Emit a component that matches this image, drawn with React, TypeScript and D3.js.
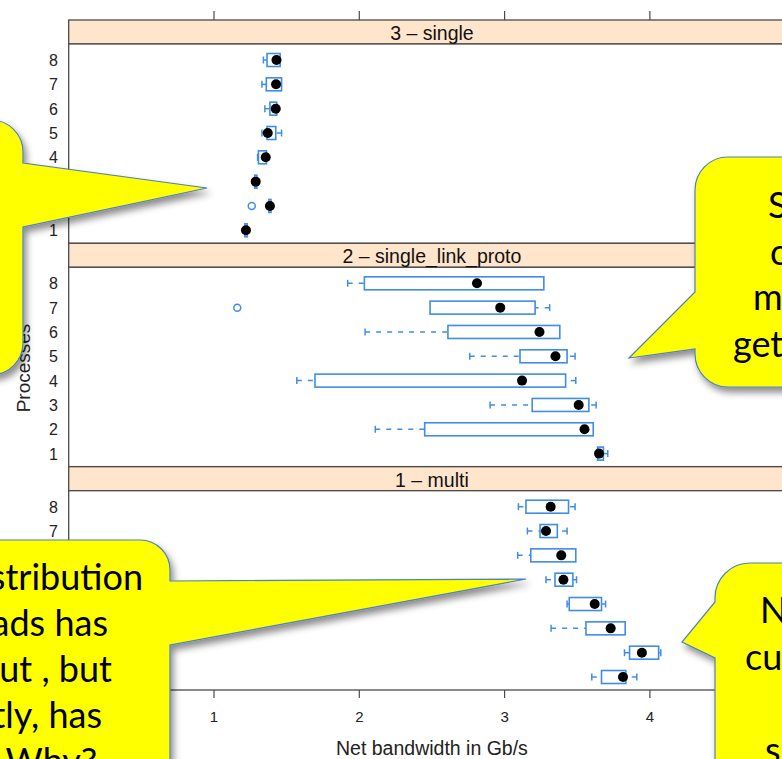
import React from "react";
import * as d3 from "d3";

// ---- data ----
const processes = [1, 2, 3, 4, 5, 6, 7, 8];
const panelLabels = ["3 – single", "2 – single_link_proto", "1 – multi"];
const xTicks = [1, 2, 3, 4];

// 3 – single
const singleLow = [1.21, 1.37, 1.275, 1.3, 1.33, 1.35, 1.33, 1.34];
const singleQ1 = [1.213, 1.378, 1.28, 1.306, 1.365, 1.385, 1.36, 1.365];
const singleMed = [1.22, 1.385, 1.287, 1.356, 1.37, 1.425, 1.427, 1.43];
const singleQ3 = [1.228, 1.392, 1.295, 1.361, 1.425, 1.432, 1.465, 1.455];
const singleHigh = [1.23, 1.392, 1.3, 1.361, 1.465, 1.432, 1.465, 1.455];
const singleOutProc = [2];
const singleOutVal = [1.26];

// 2 – single_link_proto
const linkLow = [3.64, 2.11, 2.9, 1.57, 2.76, 2.04, 2.487, 1.92];
const linkQ1 = [3.64, 2.45, 3.19, 1.695, 3.106, 2.61, 2.487, 2.035];
const linkMed = [3.65, 3.55, 3.51, 3.12, 3.35, 3.24, 2.97, 2.81];
const linkQ3 = [3.68, 3.61, 3.58, 3.42, 3.43, 3.38, 3.21, 3.27];
const linkHigh = [3.71, 3.61, 3.63, 3.49, 3.485, 3.38, 3.31, 3.27];
const linkOutProc = [7];
const linkOutVal = [1.16];

// 1 – multi
const multiLow = [3.6, 3.825, 3.32, 3.43, 3.285, 3.09, 3.157, 3.095];
const multiQ1 = [3.667, 3.86, 3.56, 3.445, 3.347, 3.18, 3.244, 3.147];
const multiMed = [3.815, 3.945, 3.73, 3.62, 3.405, 3.39, 3.285, 3.317];
const multiQ3 = [3.834, 4.06, 3.83, 3.667, 3.47, 3.49, 3.363, 3.44];
const multiHigh = [3.91, 4.075, 3.83, 3.695, 3.495, 3.49, 3.43, 3.485];
const multiOutProc: number[] = [];
const multiOutVal: number[] = [];

const BLUE = "#3f8de6";
const FRAME = "#4a4a4a";

export default function App() {
  const W = 782;
  const H = 759;
  const x = d3.scaleLinear().domain([0, 5]).range([68.7, 795.2]);
  const stripTops = [20, 243.3, 466.7];
  const stripH = 24;
  const panelH = 199.3;
  const xL = x.range()[0];
  const xR = x.range()[1];

  const panels = [
    { low: singleLow, q1: singleQ1, med: singleMed, q3: singleQ3, high: singleHigh, op: singleOutProc, ov: singleOutVal },
    { low: linkLow, q1: linkQ1, med: linkMed, q3: linkQ3, high: linkHigh, op: linkOutProc, ov: linkOutVal },
    { low: multiLow, q1: multiQ1, med: multiMed, q3: multiQ3, high: multiHigh, op: multiOutProc, ov: multiOutVal },
  ];

  const sans = "'Liberation Sans', Arial, Helvetica, sans-serif";
  const callFont = "Lato, 'Open Sans', sans-serif";
  const halfBox = 6.5;

  return (
    <svg
      width={W}
      height={H}
      style={{ position: "fixed", left: 0, top: 0, background: "#fff", overflow: "hidden" }}
      fontFamily={sans}
    >
      <defs>
        <filter id="sh" x="-30%" y="-30%" width="160%" height="160%">
          <feDropShadow dx="3" dy="5" stdDeviation="3.5" floodColor="#000" floodOpacity="0.45" />
        </filter>
      </defs>
      <rect x={0} y={0} width={W} height={H} fill="#fff" />

      {/* top axis ticks */}
      {xTicks.map((t) => (
        <line key={"tt" + t} x1={x(t)} x2={x(t)} y1={11} y2={20} stroke={FRAME} strokeWidth={1.2} />
      ))}

      {panels.map((p, pi) => {
        const sTop = stripTops[pi];
        const pTop = sTop + stripH;
        const pBot = pTop + panelH;
        const y = d3.scaleLinear().domain([0.466, 8.658]).range([pBot, pTop]);
        return (
          <g key={"p" + pi}>
            <rect x={xL} y={sTop} width={xR - xL} height={stripH} fill="#ffe5cc" stroke={FRAME} strokeWidth={1.3} />
            <rect x={xL} y={pTop} width={xR - xL} height={panelH} fill="#fff" stroke={FRAME} strokeWidth={1.3} />
            <text x={(xL + xR) / 2} y={sTop + 20} textAnchor="middle" fontSize={19.5} fill="#111">
              {panelLabels[pi]}
            </text>
            {processes.map((proc) => {
              const cy = y(proc);
              return (
                <text key={"yl" + proc} x={58} y={cy + 6} textAnchor="end" fontSize={16} fill="#222">
                  {proc}
                </text>
              );
            })}
            {processes.map((proc, i) => {
              const cy = y(proc);
              const lo = x(p.low[i]);
              const q1 = x(p.q1[i]);
              const md = x(p.med[i]);
              const q3 = x(p.q3[i]);
              const hi = x(p.high[i]);
              return (
                <g key={"b" + proc}>
                  {lo < q1 - 0.5 && (
                    <>
                      <line x1={lo} x2={q1} y1={cy} y2={cy} stroke={BLUE} strokeWidth={1.5} strokeDasharray="5,6" />
                      <line x1={lo} x2={lo} y1={cy - 3.5} y2={cy + 3.5} stroke={BLUE} strokeWidth={1.5} />
                    </>
                  )}
                  {hi > q3 + 0.5 && (
                    <>
                      <line x1={hi} x2={q3} y1={cy} y2={cy} stroke={BLUE} strokeWidth={1.5} strokeDasharray="5,6" />
                      <line x1={hi} x2={hi} y1={cy - 3.5} y2={cy + 3.5} stroke={BLUE} strokeWidth={1.5} />
                    </>
                  )}
                  <rect
                    x={q1}
                    y={cy - halfBox}
                    width={Math.max(q3 - q1, 1)}
                    height={halfBox * 2}
                    fill="none"
                    stroke={BLUE}
                    strokeWidth={1.6}
                  />
                  <circle cx={md} cy={cy} r={5} fill="#000" />
                </g>
              );
            })}
            {p.op.map((proc, k) => (
              <circle key={"o" + k} cx={x(p.ov[k])} cy={y(proc)} r={3.5} fill="none" stroke={BLUE} strokeWidth={1.5} />
            ))}
          </g>
        );
      })}

      {/* bottom axis */}
      {xTicks.map((t) => (
        <g key={"bt" + t}>
          <line x1={x(t)} x2={x(t)} y1={690} y2={698} stroke={FRAME} strokeWidth={1.2} />
          <text x={x(t)} y={722} textAnchor="middle" fontSize={15} fill="#222">
            {t}
          </text>
        </g>
      ))}
      <text x={(xL + xR) / 2} y={755} textAnchor="middle" fontSize={19.5} fill="#222">
        Net bandwidth in Gb/s
      </text>
      <text transform="translate(30,368) rotate(-90)" textAnchor="middle" fontSize={19} fill="#222">
        Processes
      </text>

      {/* callouts */}
      <g filter="url(#sh)" fill="#ffff00" stroke="#4f81bd" strokeWidth={1.2}>
        <path d="M -100,120 L -9,120 A 32 32 0 0 1 23,152 L 23,163 L 207,188 L 23,227 L 23,343 A 32 32 0 0 1 -9,375 L -100,375 Z" />
        <path d="M 728,157 L 900,157 L 900,387 L 728,387 A 33 33 0 0 1 695,354 L 695,349 L 629,358 L 695,292 L 695,190 A 33 33 0 0 1 728,157 Z" />
        <path d="M 750,563 L 900,563 L 900,900 L 715,900 L 715,658 L 682,642 L 715,602 L 715,598 A 35 35 0 0 1 750,563 Z" />
        <path d="M -100,540 L 140,540 A 30 30 0 0 1 170,570 L 170,581 L 526,579 L 170,645 L 170,900 L -100,900 Z" />
      </g>

      <g fontFamily={callFont} fontSize={36} fill="#000">
        <text x={143} y={590} textAnchor="end">stribution</text>
        <text x={108} y={636} textAnchor="end">ads has</text>
        <text x={112} y={682} textAnchor="end">ut , but</text>
        <text x={102} y={728} textAnchor="end">tly, has</text>
        <text x={97} y={774} textAnchor="end">. Why?</text>

        <text x={768} y={218}>S</text>
        <text x={770} y={265}>c</text>
        <text x={753} y={310}>m</text>
        <text x={733} y={357}>get</text>

        <text x={760} y={623}>N</text>
        <text x={745} y={670}>cu</text>
        <text x={765} y={763}>s</text>
      </g>
    </svg>
  );
}
